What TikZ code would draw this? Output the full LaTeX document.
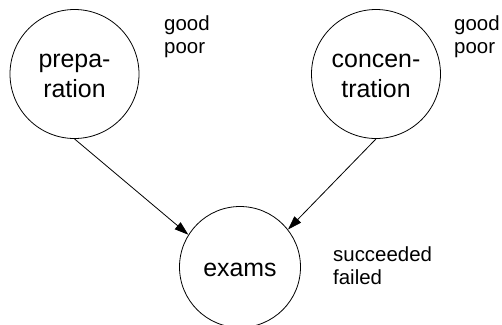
\documentclass[tikz,border=0pt]{standalone}
\usepackage{fontspec}
\setmainfont{Liberation Sans}
\usetikzlibrary{arrows.meta}
% raises the top of a line so the text sits a little lower in its circle
\newcommand{\raisetop}[1]{\rule{0pt}{#1}}
\begin{document}
\begin{tikzpicture}[x=1bp,y=1bp,
  varnode/.style={circle,draw,line width=0.8bp,inner sep=0pt,align=center,
    font=\fontsize{25}{30.6}\selectfont},
  statelabel/.style={anchor=base west,inner sep=0pt,font=\fontsize{20.5}{22.6}\selectfont},
  link/.style={line width=0.8bp,-{Triangle[length=14bp,width=9bp]}}]
\useasboundingbox (0,0) rectangle (502,-324);

% variables
\node[varnode,minimum size=129bp] (prep) at (74.5,-74) {\raisetop{17.4bp}prepa-\\ration};
\node[varnode,minimum size=129bp] (conc) at (376,-74) {\raisetop{17.4bp}concen-\\tration};
\node[varnode,minimum size=121bp] (exams) at (240,-267) {\raisetop{19.4bp}exams};

% states of each variable
\node[statelabel] (prepgood) at (164,-30.7) {good};
\node[statelabel] (preppoor) at (164,-53.3) {poor};
\node[statelabel] (concgood) at (454,-30.7) {good};
\node[statelabel] (concpoor) at (454,-53.3) {poor};
\node[statelabel] (exsucc) at (333,-261.7) {succeeded};
\node[statelabel] (exfail) at (333,-284.3) {failed};

% dependencies
\draw[link] (prep.south) -- (exams.148);
\draw[link] (conc.south) -- (exams.38);
\end{tikzpicture}
\end{document}
